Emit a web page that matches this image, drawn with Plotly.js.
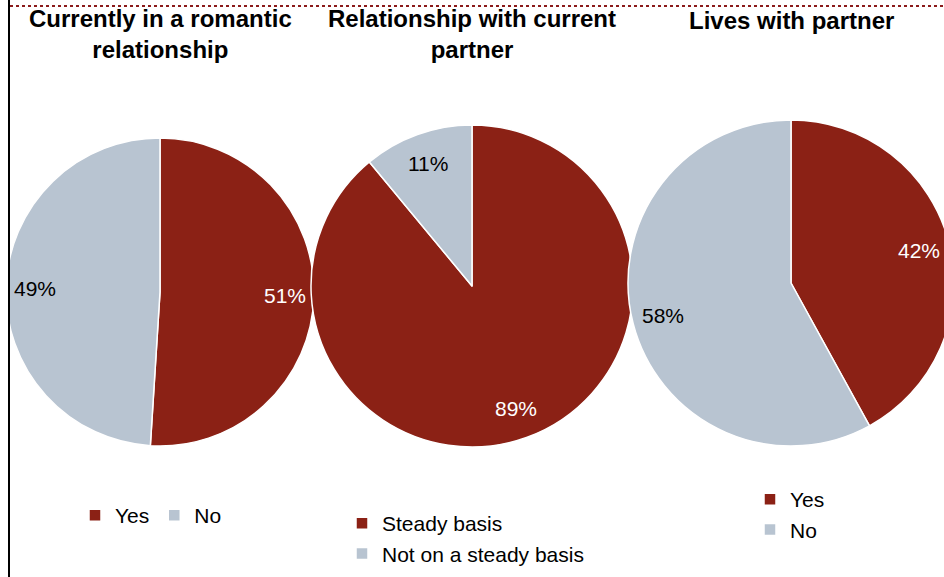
<!DOCTYPE html>
<html>
<head>
<meta charset="utf-8">
<script src="https://cdn.plot.ly/plotly-3.0.1.min.js"></script>
<style>
html,body{margin:0;padding:0;overflow:hidden;background:#fff;}
#chart{width:960px;height:577px;}
</style>
</head>
<body>
<div id="chart"></div>
<script>
// ---- data ----
const titles = ["Currently in a romantic<br>relationship", "Relationship with current<br>partner", "Lives with partner"];
const labels1 = ["Yes", "No"];
const values1 = [51, 49];
const labels2 = ["Steady basis", "Not on a steady basis"];
const values2 = [89, 11];
const labels3 = ["Yes ", "No "];
const values3 = [42, 58];

const RED = "#8B2115";
const GRAY = "#B8C4D1";
const FONT = "Liberation Sans, Arial, sans-serif";
const W = 960, H = 577;

function px(x){ return x / W; }
function py(y){ return 1 - y / H; }
function dom(g){
  return {x: [px(g.cx - g.r), px(g.cx + g.r)], y: [py(g.cy + g.r), py(g.cy - g.r)]};
}

const geo = [
  {cx: 160, cy: 292, r: 154},
  {cx: 472, cy: 286, r: 161},
  {cx: 791, cy: 283, r: 163}
];

function pie(labels, values, g, legend){
  return {
    type: "pie",
    labels: labels,
    values: values,
    domain: dom(g),
    sort: false,
    direction: "clockwise",
    rotation: 0,
    textinfo: "none",
    marker: {colors: [RED, GRAY], line: {color: "#ffffff", width: 1.5}},
    hoverinfo: "label+percent",
    legend: legend
  };
}

const series = [values1, values2, values3];
const data = [
  pie(labels1, values1, geo[0], "legend"),
  pie(labels2, values2, geo[1], "legend2"),
  pie(labels3, values3, geo[2], "legend3")
];

// percent labels placed near the outer part of each slice, from the values
const labelAnns = [];
series.forEach(function(vals, i){
  const g = geo[i];
  const total = vals.reduce(function(a, b){ return a + b; }, 0);
  let cum = 0;
  vals.forEach(function(v, j){
    const mid = (cum + v / 2) / total * 2 * Math.PI;
    cum += v;
    const rr = 0.81 * g.r;
    const x = g.cx + rr * Math.sin(mid);
    const y = g.cy - rr * Math.cos(mid);
    labelAnns.push({
      text: Math.round(v / total * 100) + "%",
      x: px(x), y: py(y), xref: "paper", yref: "paper",
      xanchor: "center", yanchor: "middle", showarrow: false,
      font: {family: FONT, size: 21, color: j === 0 ? "#ffffff" : "#000000"}
    });
  });
});

const legFont = {family: FONT, size: 21, color: "#000000"};
const titleFont = {family: FONT, size: 24, color: "#000000", weight: "bold"};
const layout = {
  width: W, height: H,
  margin: {l: 0, r: 0, t: 0, b: 0},
  paper_bgcolor: "#ffffff",
  showlegend: true,
  font: {family: FONT},
  legend: {orientation: "h", x: px(75), y: py(495), xanchor: "left", yanchor: "top",
           font: legFont, bgcolor: "rgba(0,0,0,0)"},
  legend2: {orientation: "v", x: px(342), y: py(503), xanchor: "left", yanchor: "top",
           font: legFont, bgcolor: "rgba(0,0,0,0)"},
  legend3: {orientation: "v", x: px(750), y: py(479), xanchor: "left", yanchor: "top",
           font: legFont, bgcolor: "rgba(0,0,0,0)"},
  annotations: [
    {text: titles[0], x: px(160), y: py(34), xref: "paper", yref: "paper", xanchor: "center", yanchor: "middle",
     showarrow: false, font: titleFont},
    {text: titles[1], x: px(472), y: py(34), xref: "paper", yref: "paper", xanchor: "center", yanchor: "middle",
     showarrow: false, font: titleFont},
    {text: titles[2], x: px(791), y: py(20), xref: "paper", yref: "paper", xanchor: "center", yanchor: "middle",
     showarrow: false, font: titleFont}
  ].concat(labelAnns),
  shapes: [
    {type: "line", xref: "paper", yref: "paper", x0: px(10), x1: 1, y0: py(6), y1: py(6),
     line: {color: "#8B1A1A", width: 2, dash: "dot"}},
    {type: "rect", xref: "paper", yref: "paper", x0: 0, x1: px(8), y0: 0, y1: 1,
     fillcolor: "#ffffff", line: {width: 0}, layer: "above"},
    {type: "line", xref: "paper", yref: "paper", x0: px(9), x1: px(9), y0: 0, y1: 1,
     line: {color: "#000000", width: 2}, layer: "above"}
  ]
};

Plotly.newPlot("chart", data, layout, {displayModeBar: false, staticPlot: true});
</script>
</body>
</html>
